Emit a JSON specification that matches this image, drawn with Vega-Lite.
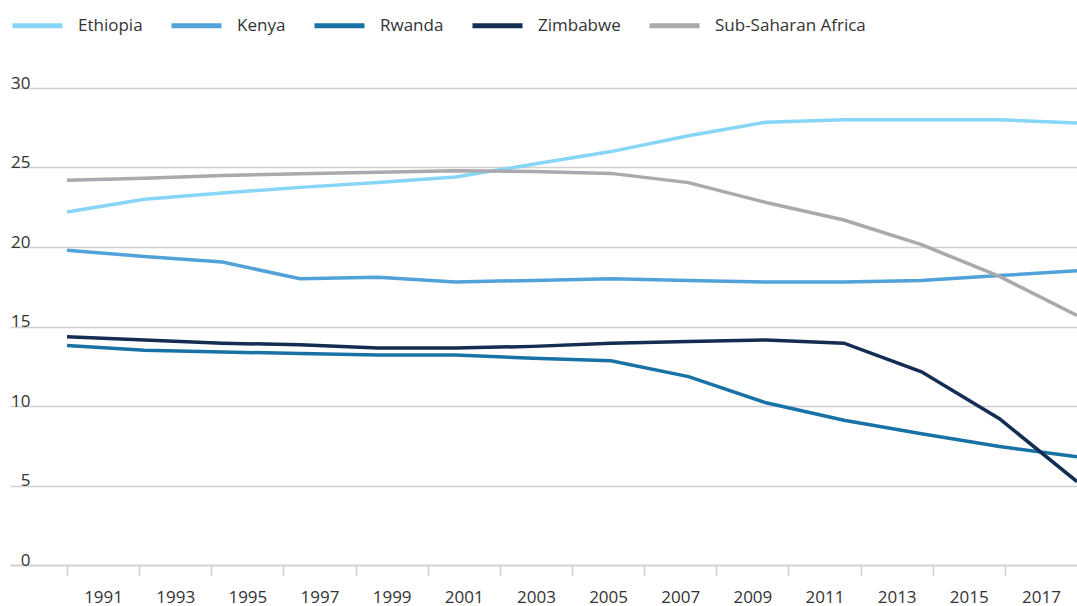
{
  "$schema": "https://vega.github.io/schema/vega-lite/v6.json",
  "width": 1067,
  "height": 477,
  "autosize": {"type": "none"},
  "padding": {"left": 10, "top": 88, "right": 0, "bottom": 41},
  "background": "white",
  "config": {
    "view": {"stroke": null},
    "font": "Open Sans"
  },
  "data": {
    "values": [
      {"year": 1990, "country": "Ethiopia", "value": 22.2},
      {"year": 1992.15, "country": "Ethiopia", "value": 23.0},
      {"year": 1994.31, "country": "Ethiopia", "value": 23.4},
      {"year": 1996.46, "country": "Ethiopia", "value": 23.75},
      {"year": 1998.62, "country": "Ethiopia", "value": 24.05},
      {"year": 2000.77, "country": "Ethiopia", "value": 24.4},
      {"year": 2002.92, "country": "Ethiopia", "value": 25.2},
      {"year": 2005.08, "country": "Ethiopia", "value": 26.0},
      {"year": 2007.23, "country": "Ethiopia", "value": 27.0},
      {"year": 2009.38, "country": "Ethiopia", "value": 27.85},
      {"year": 2011.54, "country": "Ethiopia", "value": 28.0},
      {"year": 2013.69, "country": "Ethiopia", "value": 28.0},
      {"year": 2015.85, "country": "Ethiopia", "value": 28.0},
      {"year": 2018, "country": "Ethiopia", "value": 27.8},

      {"year": 1990, "country": "Kenya", "value": 19.8},
      {"year": 1992.15, "country": "Kenya", "value": 19.4},
      {"year": 1994.31, "country": "Kenya", "value": 19.05},
      {"year": 1996.46, "country": "Kenya", "value": 18.0},
      {"year": 1998.62, "country": "Kenya", "value": 18.1},
      {"year": 2000.77, "country": "Kenya", "value": 17.8},
      {"year": 2002.92, "country": "Kenya", "value": 17.9},
      {"year": 2005.08, "country": "Kenya", "value": 18.0},
      {"year": 2007.23, "country": "Kenya", "value": 17.9},
      {"year": 2009.38, "country": "Kenya", "value": 17.8},
      {"year": 2011.54, "country": "Kenya", "value": 17.8},
      {"year": 2013.69, "country": "Kenya", "value": 17.9},
      {"year": 2015.85, "country": "Kenya", "value": 18.2},
      {"year": 2018, "country": "Kenya", "value": 18.5},

      {"year": 1990, "country": "Rwanda", "value": 13.8},
      {"year": 1992.15, "country": "Rwanda", "value": 13.5},
      {"year": 1994.31, "country": "Rwanda", "value": 13.4},
      {"year": 1996.46, "country": "Rwanda", "value": 13.3},
      {"year": 1998.62, "country": "Rwanda", "value": 13.2},
      {"year": 2000.77, "country": "Rwanda", "value": 13.2},
      {"year": 2002.92, "country": "Rwanda", "value": 13.0},
      {"year": 2005.08, "country": "Rwanda", "value": 12.85},
      {"year": 2007.23, "country": "Rwanda", "value": 11.85},
      {"year": 2009.38, "country": "Rwanda", "value": 10.2},
      {"year": 2011.54, "country": "Rwanda", "value": 9.1},
      {"year": 2013.69, "country": "Rwanda", "value": 8.25},
      {"year": 2015.85, "country": "Rwanda", "value": 7.45},
      {"year": 2018, "country": "Rwanda", "value": 6.8},

      {"year": 1990, "country": "Zimbabwe", "value": 14.35},
      {"year": 1992.15, "country": "Zimbabwe", "value": 14.15},
      {"year": 1994.31, "country": "Zimbabwe", "value": 13.95},
      {"year": 1996.46, "country": "Zimbabwe", "value": 13.85},
      {"year": 1998.62, "country": "Zimbabwe", "value": 13.65},
      {"year": 2000.77, "country": "Zimbabwe", "value": 13.65},
      {"year": 2002.92, "country": "Zimbabwe", "value": 13.75},
      {"year": 2005.08, "country": "Zimbabwe", "value": 13.95},
      {"year": 2007.23, "country": "Zimbabwe", "value": 14.05},
      {"year": 2009.38, "country": "Zimbabwe", "value": 14.15},
      {"year": 2011.54, "country": "Zimbabwe", "value": 13.95},
      {"year": 2013.69, "country": "Zimbabwe", "value": 12.15},
      {"year": 2015.85, "country": "Zimbabwe", "value": 9.2},
      {"year": 2018, "country": "Zimbabwe", "value": 5.25},

      {"year": 1990, "country": "Sub-Saharan Africa", "value": 24.2},
      {"year": 1992.15, "country": "Sub-Saharan Africa", "value": 24.33},
      {"year": 1994.31, "country": "Sub-Saharan Africa", "value": 24.5},
      {"year": 1996.46, "country": "Sub-Saharan Africa", "value": 24.6},
      {"year": 1998.62, "country": "Sub-Saharan Africa", "value": 24.7},
      {"year": 2000.77, "country": "Sub-Saharan Africa", "value": 24.8},
      {"year": 2002.92, "country": "Sub-Saharan Africa", "value": 24.75},
      {"year": 2005.08, "country": "Sub-Saharan Africa", "value": 24.63},
      {"year": 2007.23, "country": "Sub-Saharan Africa", "value": 24.05},
      {"year": 2009.38, "country": "Sub-Saharan Africa", "value": 22.8},
      {"year": 2011.54, "country": "Sub-Saharan Africa", "value": 21.7},
      {"year": 2013.69, "country": "Sub-Saharan Africa", "value": 20.15},
      {"year": 2015.85, "country": "Sub-Saharan Africa", "value": 18.15},
      {"year": 2018, "country": "Sub-Saharan Africa", "value": 15.7}
    ]
  },
  "mark": {"type": "line", "strokeWidth": 3.5, "strokeJoin": "miter"},
  "encoding": {
    "x": {
      "field": "year",
      "type": "quantitative",
      "title": null,
      "scale": {"domain": [1988.42, 2018], "nice": false, "zero": false},
      "axis": {
        "values": [1991, 1993, 1995, 1997, 1999, 2001, 2003, 2005, 2007, 2009, 2011, 2013, 2015, 2017],
        "format": "d",
        "grid": false,
        "domain": true,
        "domainColor": "#cfcfcf",
        "domainWidth": 1.5,
        "ticks": true,
        "tickColor": "#cfcfcf",
        "tickWidth": 1.5,
        "tickSize": 10,
        "tickOffset": -36.07,
        "labelOffset": 36.07,
        "labelFontSize": 17,
        "labelColor": "#333333",
        "labelPadding": 14,
        "labelFlush": false,
        "labelOverlap": false
      }
    },
    "y": {
      "field": "value",
      "type": "quantitative",
      "title": null,
      "scale": {"domain": [0, 30], "nice": false},
      "axis": {
        "values": [0, 5, 10, 15, 20, 25, 30],
        "grid": true,
        "gridColor": "#cfcfcf",
        "gridWidth": 1.5,
        "domain": false,
        "ticks": false,
        "labelAlign": "right",
        "labelBaseline": "alphabetic",
        "labelPadding": -20,
        "labelDy": -4,
        "labelFontSize": 17,
        "labelColor": "#333333"
      }
    },
    "color": {
      "field": "country",
      "type": "nominal",
      "title": null,
      "sort": ["Ethiopia", "Kenya", "Rwanda", "Zimbabwe", "Sub-Saharan Africa"],
      "scale": {
        "domain": ["Ethiopia", "Kenya", "Rwanda", "Zimbabwe", "Sub-Saharan Africa"],
        "range": ["#87d5f7", "#52a2da", "#1872a6", "#142d52", "#a9a9ae"]
      },
      "legend": {
        "orient": "none",
        "legendX": 0,
        "legendY": -90,
        "direction": "horizontal",
        "symbolType": "stroke",
        "symbolSize": 2500,
        "symbolStrokeWidth": 5,
        "labelFontSize": 17,
        "labelColor": "#333333",
        "labelOffset": 13,
        "columnPadding": 18
      }
    }
  }
}
